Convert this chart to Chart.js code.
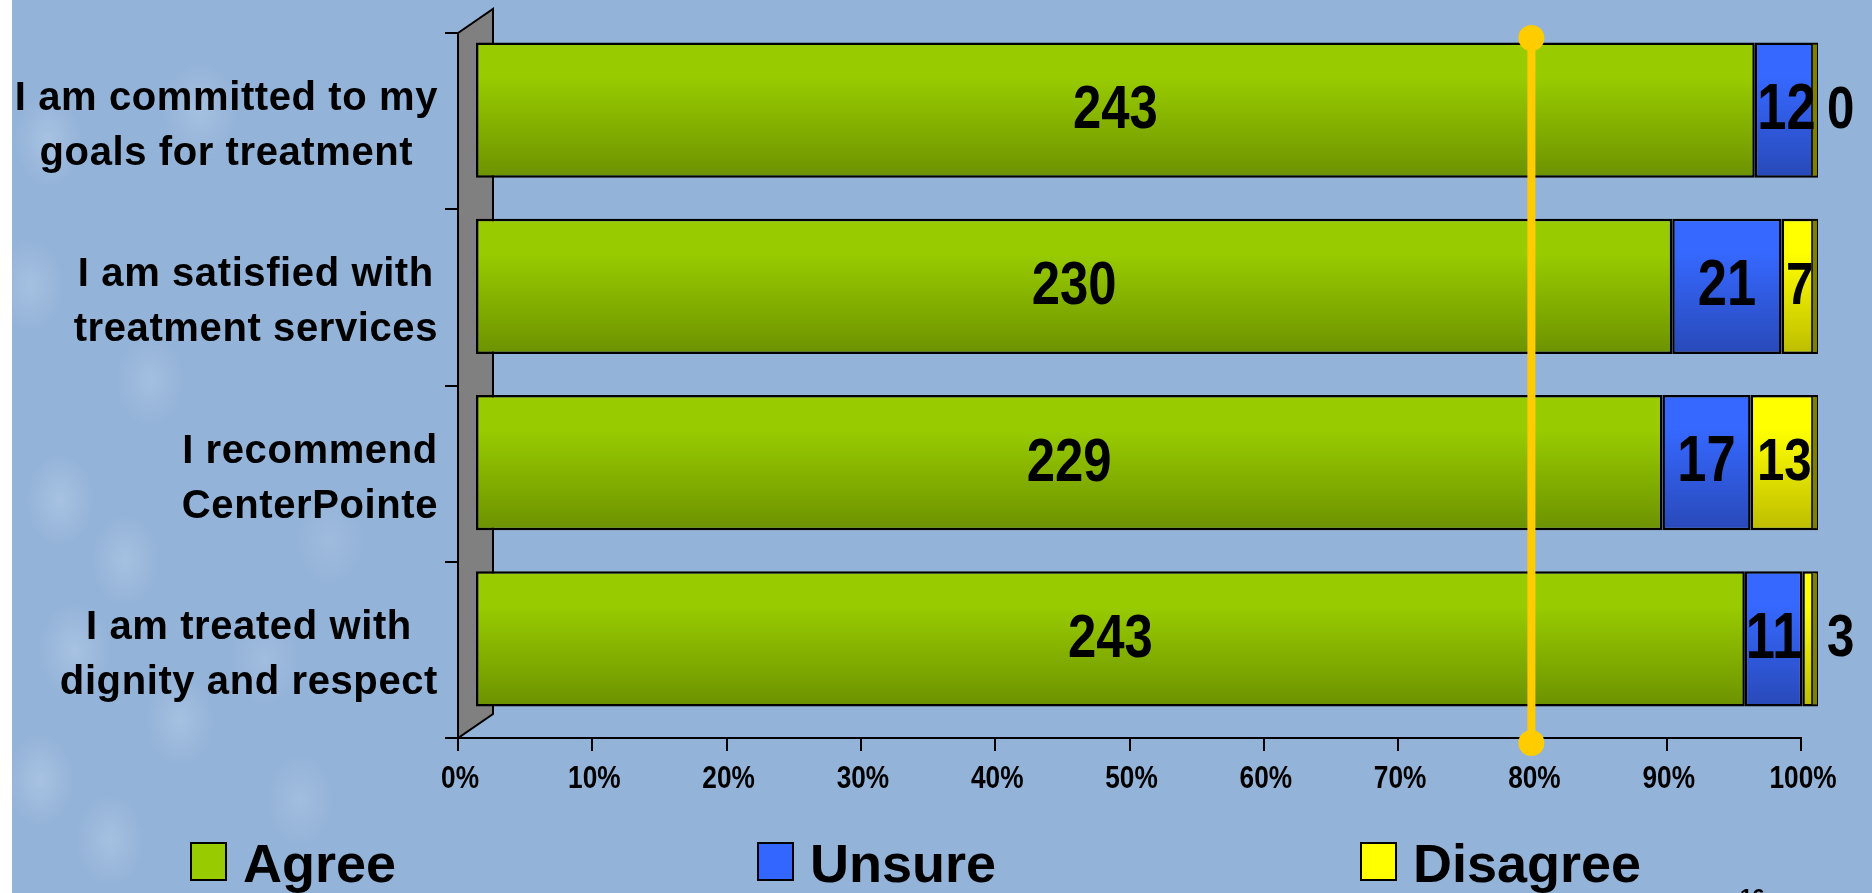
<!DOCTYPE html>
<html>
<head>
<meta charset="utf-8">
<title>Client Survey</title>
<script src="https://cdn.jsdelivr.net/npm/chart.js@4.4.1/dist/chart.umd.min.js"></script>
<style>
  html, body { margin: 0; padding: 0; }
  body {
    width: 1872px; height: 893px; overflow: hidden;
    background:
      linear-gradient(to right, #ffffff 0, #ffffff 12px, transparent 12px),
      radial-gradient(ellipse 34px 46px at 48px 140px, rgba(190,212,238,.45), rgba(190,212,238,0)),
      radial-gradient(ellipse 38px 48px at 200px 110px, rgba(190,212,238,.4), rgba(190,212,238,0)),
      radial-gradient(ellipse 34px 46px at 30px 285px, rgba(190,212,238,.4), rgba(190,212,238,0)),
      radial-gradient(ellipse 34px 46px at 150px 380px, rgba(190,212,238,.35), rgba(190,212,238,0)),
      radial-gradient(ellipse 34px 46px at 60px 500px, rgba(190,212,238,.45), rgba(190,212,238,0)),
      radial-gradient(ellipse 34px 46px at 125px 560px, rgba(190,212,238,.4), rgba(190,212,238,0)),
      radial-gradient(ellipse 36px 48px at 75px 650px, rgba(190,212,238,.45), rgba(190,212,238,0)),
      radial-gradient(ellipse 34px 46px at 180px 720px, rgba(190,212,238,.4), rgba(190,212,238,0)),
      radial-gradient(ellipse 34px 46px at 40px 780px, rgba(190,212,238,.45), rgba(190,212,238,0)),
      radial-gradient(ellipse 34px 46px at 110px 840px, rgba(190,212,238,.4), rgba(190,212,238,0)),
      radial-gradient(ellipse 34px 46px at 265px 660px, rgba(190,212,238,.3), rgba(190,212,238,0)),
      radial-gradient(ellipse 34px 46px at 300px 800px, rgba(190,212,238,.3), rgba(190,212,238,0)),
      radial-gradient(ellipse 34px 46px at 330px 540px, rgba(190,212,238,.25), rgba(190,212,238,0)),
      #94b3d8;
  }
  #wrap { position: relative; width: 1872px; height: 893px; }
  #pageNo {
    position: absolute; left: 1740px; top: 884px;
    font: bold 22px "Liberation Sans", Arial, sans-serif; color: #000;
  }
</style>
</head>
<body>
<div id="wrap">
  <canvas id="surveyChart"></canvas>
  <span id="pageNo">16</span>
</div>
<script>
/* ---- survey counts ---- */
const questions = [
  ['I am committed to my', 'goals for treatment'],
  ['I am satisfied with', 'treatment services'],
  ['I recommend', 'CenterPointe'],
  ['I am treated with', 'dignity and respect']
];
const agree    = [243, 230, 229, 243];
const unsure   = [12, 21, 17, 11];
const disagree = [0, 7, 13, 3];

const seriesNames = ['Agree', 'Unsure', 'Disagree'];
const xTicks = [0, 10, 20, 30, 40, 50, 60, 70, 80, 90, 100];
const target = 80;

/* ---- look ---- */
const SANS   = '"Liberation Sans", Arial, sans-serif';
const NARROW_X = 0.82;                           // squeeze for the narrow face
const BAR_PCT = 0.766;
const DEPTH = { x: 35, y: -24 };                 // 3d wall depth
const SHIFT = { x: 17, y: -11 };                 // bars sit half way back

const totals = agree.map((a, i) => a + unsure[i] + disagree[i]);
const pct = arr => arr.map((v, i) => v / totals[i] * 100);
const counts = [agree, unsure, disagree];

// bold condensed text: Liberation Sans squeezed horizontally
function narrowText(ctx, text, x, y, size, align, baseline) {
  ctx.save();
  ctx.font = `bold ${size}px ${SANS}`;
  ctx.textAlign = align;
  ctx.textBaseline = baseline;
  ctx.translate(x, y);
  ctx.scale(NARROW_X, 1);
  ctx.fillText(text, 0, 0);
  ctx.restore();
}

// vertical shading for each bar, built in front-plane coordinates
function barFill(top, bottom) {
  return c => {
    const ys = c.chart.scales.y;
    if (!ys || c.dataIndex === undefined || c.type !== 'data') return top;
    const mid = ys.getPixelForValue(c.dataIndex);
    const half = (ys.bottom - ys.top) / questions.length * BAR_PCT / 2;
    if (!isFinite(mid) || !isFinite(half) || half <= 0) return top;   // before layout
    const g = c.chart.ctx.createLinearGradient(0, mid - half, 0, mid + half);
    g.addColorStop(0, top);
    g.addColorStop(0.25, top);
    g.addColorStop(1, bottom);
    return g;
  };
}

const legendColors = ['#99cc00', '#3366ff', '#ffff00'];

const depthPlugin = {
  id: 'depth',
  beforeDatasetsDraw(chart) {
    const { ctx, chartArea: a } = chart;
    ctx.save();
    ctx.beginPath();
    ctx.moveTo(a.left, a.top);
    ctx.lineTo(a.left + DEPTH.x, a.top + DEPTH.y);
    ctx.lineTo(a.left + DEPTH.x, a.bottom + DEPTH.y);
    ctx.lineTo(a.left, a.bottom);
    ctx.closePath();
    ctx.fillStyle = '#808080';
    ctx.fill();
    ctx.lineWidth = 2;
    ctx.strokeStyle = '#000';
    ctx.stroke();
    ctx.restore();
    // bars are drawn half way into the depth
    ctx.save();
    ctx.translate(SHIFT.x, SHIFT.y);
  },
  afterDatasetsDraw(chart) {
    const { ctx } = chart;
    const last = chart.getDatasetMeta(2).data;
    // olive end caps
    last.forEach(el => {
      const h = el.height / 2;
      ctx.fillStyle = '#808000';
      ctx.fillRect(el.x - 6, el.y - h + 2, 5, h * 2 - 4);
      ctx.beginPath();
      ctx.moveTo(el.x - 6, el.y - h + 2);
      ctx.lineTo(el.x - 6, el.y + h - 2);
      ctx.lineWidth = 1.5;
      ctx.strokeStyle = '#000';
      ctx.stroke();
    });
    // value labels
    const sizes = [62, 64, 60];
    ctx.fillStyle = '#000';
    counts.forEach((arr, d) => {
      chart.getDatasetMeta(d).data.forEach((el, i) => {
        const v = arr[i];
        if (v <= 3) {
          narrowText(ctx, String(v), last[i].x + 9, el.y + 1, sizes[d], 'left', 'middle');
        } else {
          narrowText(ctx, String(v), (el.x + el.base) / 2, el.y + 1, sizes[d], 'center', 'middle');
        }
      });
    });
    ctx.restore();
  },
  afterDraw(chart) {
    const { ctx, chartArea: a, scales } = chart;
    const ys = scales.y, xs = scales.x;

    // percentage tick labels
    ctx.fillStyle = '#000';
    xTicks.forEach(v => {
      narrowText(ctx, v + '%', xs.getPixelForValue(v) + 2, a.bottom + 50, 32, 'center', 'alphabetic');
    });

    // question labels: right-aligned block, lines centred inside it
    ctx.save();
    ctx.font = `bold 40px ${SANS}`;
    if ('letterSpacing' in ctx) ctx.letterSpacing = '0.6px';
    ctx.fillStyle = '#000';
    ctx.textAlign = 'center';
    ctx.textBaseline = 'alphabetic';
    questions.forEach((lines, i) => {
      const cy = ys.getPixelForValue(i);
      const w = Math.max(...lines.map(t => ctx.measureText(t).width));
      const cx = a.left - 20 - w / 2;
      ctx.fillText(lines[0], cx, cy - 11);
      ctx.fillText(lines[1], cx, cy + 44);
    });
    ctx.restore();

    // 80% marker
    const tx = xs.getPixelForValue(target) - 1;
    const y0 = a.top + 5, y1 = a.bottom + 5;
    ctx.save();
    ctx.strokeStyle = '#ffcc00';
    ctx.fillStyle = '#ffcc00';
    ctx.lineWidth = 8;
    ctx.beginPath();
    ctx.moveTo(tx, y0);
    ctx.lineTo(tx, y1);
    ctx.stroke();
    [y0, y1].forEach(y => {
      ctx.beginPath();
      ctx.arc(tx, y, 13, 0, Math.PI * 2);
      ctx.fill();
    });
    ctx.restore();

    // legend
    const legendX = [191, 758, 1361];
    ctx.save();
    ctx.font = `bold 54px ${SANS}`;
    ctx.textAlign = 'left';
    ctx.textBaseline = 'alphabetic';
    seriesNames.forEach((name, i) => {
      const x = legendX[i];
      ctx.fillStyle = legendColors[i];
      ctx.fillRect(x, 843, 35, 37);
      ctx.lineWidth = 2;
      ctx.strokeStyle = '#000';
      ctx.strokeRect(x, 843, 35, 37);
      ctx.fillStyle = '#000';
      ctx.fillText(name, x + 52, 882);
    });
    ctx.restore();
  }
};

new Chart(document.getElementById('surveyChart'), {
  type: 'bar',
  data: {
    labels: questions.map(q => q.join(' ')),
    datasets: [
      {
        label: seriesNames[0], data: pct(agree),
        backgroundColor: barFill('#99cc00', '#6c9200'),
        borderRadius: 6
      },
      {
        label: seriesNames[1], data: pct(unsure),
        backgroundColor: barFill('#3668ff', '#2849b8')
      },
      {
        label: seriesNames[2], data: pct(disagree),
        backgroundColor: barFill('#ffff00', '#bdbd00')
      }
    ]
  },
  options: {
    indexAxis: 'y',
    responsive: true,
    maintainAspectRatio: false,
    animation: false,
    datasets: {
      bar: {
        barPercentage: BAR_PCT,
        categoryPercentage: 1,
        borderColor: '#000',
        borderWidth: 2.5,
        borderSkipped: false
      }
    },
    layout: { padding: { top: 33, right: 71, left: 0, bottom: 0 } },
    scales: {
      x: {
        stacked: true,
        min: 0, max: 100,
        afterBuildTicks: s => { s.ticks = xTicks.map(v => ({ value: v })); },
        afterFit: s => { s.height = 155; },
        grid: { drawOnChartArea: false, tickLength: 13, color: '#000', lineWidth: 2 },
        border: { color: '#000', width: 2 },
        ticks: { display: false }
      },
      y: {
        stacked: true,
        afterFit: s => { s.width = 458; },
        grid: { drawOnChartArea: false, tickLength: 13, color: '#000', lineWidth: 2, offset: true },
        border: { color: '#000', width: 2 },
        ticks: { display: false }
      }
    },
    plugins: {
      legend: { display: false },
      tooltip: { enabled: false }
    }
  },
  plugins: [depthPlugin]
});
</script>
</body>
</html>
